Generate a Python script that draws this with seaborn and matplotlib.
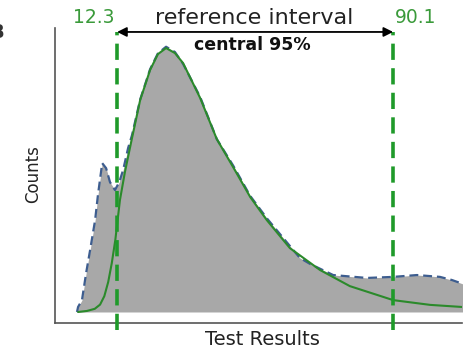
import matplotlib
matplotlib.use("Agg")
import matplotlib.pyplot as plt
import seaborn as sns
import pandas as pd

# fitted distribution (green solid)
fit_x = [1.3, 3.8, 6.0, 7.5, 8.7, 9.8, 10.8, 11.8, 13.1, 14.5, 16.5, 18.8,
         21.6, 23.8, 26.1, 28.6, 30.9, 35.7, 40.4, 45.0, 49.8, 54.5, 61.0,
         69.5, 77.9, 90.1, 100.5, 109.5]
fit_y = [0, 0.4, 1.2, 2.8, 6.0, 11.4, 18.5, 27.3, 42.4, 53.0, 65.9, 80.3,
         91.7, 97.7, 100, 98.1, 94.3, 81.1, 65.5, 54.9, 43.6, 34.8, 24.2,
         15.9, 9.8, 4.5, 2.7, 1.9]

# observed distribution (blue dashed, grey area)
obs_x = [1.0, 1.3, 2.4, 3.6, 4.7, 6.1, 6.9, 8.1, 9.2, 10.3, 11.7, 12.9, 14.0,
         15.4, 16.5, 18.8, 21.6, 23.8, 26.1, 28.6, 30.9, 35.7, 40.4, 45.0,
         49.8, 54.5, 61.0, 63.8, 66.7, 73.2, 82.7, 90.1, 96.8, 103.3, 106.7,
         109.0, 109.8]
obs_y = [0, 1.9, 4.5, 15.0, 23.5, 34.8, 44.3, 56.4, 54.5, 49.2, 46.2, 49.2,
         53.8, 62.1, 67.0, 80.5, 92.0, 98.0, 100.5, 98.5, 94.0, 81.5, 65.5,
         55.5, 44.0, 35.5, 25.0, 20.5, 18.2, 14.0, 12.9, 13.3, 14.0, 13.3,
         12.1, 11.0, 10.6]

lower, upper = 12.3, 90.1
lower_label, upper_label = "12.3", "90.1"
title_text = "reference interval"
sub_text = "central 95%"
xlabel, ylabel = "Test Results", "Counts"

sns.set_style("white")
plt.rcParams["font.family"] = ["DejaVu Sans"]

fig = plt.figure(figsize=(4.67, 3.48), dpi=100)
ax = fig.add_axes([55 / 467, 25 / 348, 407 / 467, 295 / 348])

obs = pd.DataFrame({"x": obs_x, "y": obs_y})
fit = pd.DataFrame({"x": fit_x, "y": fit_y})

ax.fill_between(obs["x"], 0, obs["y"], color="#a8a8a8", lw=0, zorder=1)
sns.lineplot(data=obs, x="x", y="y", ax=ax, color="#3d5d8f", lw=1.6,
             linestyle=(0, (4, 2.2)), sort=False, zorder=2)
sns.lineplot(data=fit, x="x", y="y", ax=ax, color="#2b8a2b", lw=1.5,
             sort=False, zorder=3)

for v in (lower, upper):
    ax.plot([v, v], [-6.8, 106.1], color="#1f9a2a", lw=2.6,
            linestyle=(0, (4.5, 2.3)), clip_on=False, zorder=4)

ax.annotate("", xy=(lower, 106.1), xytext=(upper, 106.1),
            arrowprops=dict(arrowstyle="<|-|>", color="black", lw=1.3,
                            mutation_scale=14, shrinkA=0, shrinkB=0),
            annotation_clip=False, zorder=5)

ax.text(5.8, 111.4, lower_label, color="#3a9a3a", fontsize=13.5,
        ha="center", va="center", clip_on=False)
ax.text(96.5, 111.4, upper_label, color="#3a9a3a", fontsize=13.5,
        ha="center", va="center", clip_on=False)
ax.text(50.9, 111.4, title_text, color="#222222", fontsize=16,
        ha="center", va="center", clip_on=False)
ax.text(50.3, 101.1, sub_text, color="#111111", fontsize=12.5,
        fontweight="bold", ha="center", va="center", clip_on=False)

ax.set_xlim(-5.2, 109.5)
ax.set_ylim(-4.17, 107.6)
ax.set_xticks([])
ax.set_yticks([])
ax.set_xlabel(xlabel, fontsize=14, color="#222222")
ax.set_ylabel(ylabel, fontsize=12, color="#222222")
ax.xaxis.set_label_coords((262 - 55) / 407, -(330 - 323) / 295)
ax.yaxis.set_label_coords(-(55 - 33) / 407, (323 - 174) / 295)
ax.yaxis.label.set_va("center")

for s in ("top", "right"):
    ax.spines[s].set_visible(False)
for s in ("left", "bottom"):
    ax.spines[s].set_color("#555555")
    ax.spines[s].set_linewidth(1.2)

fig.text(-11 / 467, 1 - 33 / 348, "B", fontsize=14, fontweight="bold",
         ha="left", va="center", color="#333333")

fig.savefig("out.png", dpi=100)
